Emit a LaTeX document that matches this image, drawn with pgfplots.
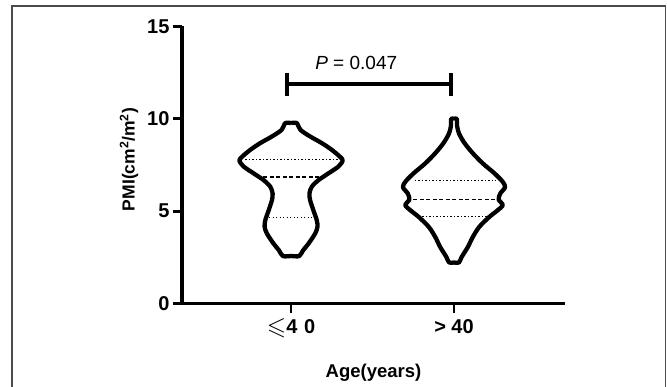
\documentclass[border=0pt]{standalone}
\usepackage{amssymb}
\usepackage{fontspec}
\setmainfont{Liberation Sans}
\usepackage{pgfplots}
\pgfplotsset{compat=1.18}
\begin{document}
\begin{tikzpicture}
\useasboundingbox (0pt,0pt) rectangle (667pt,386pt);
\draw[gray!60!black, line width=1.2pt] (12pt,-3pt) -- (12pt,380pt) -- (665.5pt,380pt) -- (665.5pt,-3pt);
\begin{axis}[
  at={(182pt,82.5pt)}, anchor=south west,
  scale only axis, width=383pt, height=277pt,
  xmin=0.331, xmax=2.681, ymin=0, ymax=15,
  axis x line=bottom, axis y line=left,
  axis line style={line width=3.2pt, -},
  tick align=outside,
  major tick length=9pt,
  tick style={line width=2.7pt, black},
  xtick={1,2},
  xticklabels={{\raisebox{-1pt}{\fontsize{25}{25}\selectfont$\leqslant$}\textbf{4\,\,0}}, {\textbf{> 40}}},
  ytick={0,5,10,15},
  yticklabel style={/pgf/number format/assume math mode=true, font=\bfseries\fontsize{20}{20}\selectfont},
  xticklabel style={font=\fontsize{20}{20}\selectfont, yshift=-3pt},
  ylabel={\textbf{PMI(cm\textsuperscript{2}/m\textsuperscript{2})}},
  xlabel={\textbf{Age(years)}},
  every axis y label/.style={at={(axis description cs:-0.1384,0.52)}, rotate=90, anchor=center, font=\fontsize{17.5}{18}\selectfont},
  every axis x label/.style={at={(axis description cs:0.5,0)}, anchor=center, yshift=-69pt, font=\fontsize{18.5}{19}\selectfont},
  clip=false,
]
% violin <=40
\addplot[black, line width=4.3pt, smooth, tension=0.5, line join=round] coordinates {
(1,9.77) (1.035,9.77) (1.058,9.40) (1.118,9.04) (1.19,8.68) (1.25,8.32) (1.30,7.95) (1.317,7.74) (1.29,7.41) (1.23,7.05) (1.168,6.68) (1.127,6.32) (1.113,5.96) (1.117,5.60) (1.137,5.05) (1.158,4.51) (1.162,4.15) (1.148,3.79) (1.107,3.24) (1.074,2.88) (1.05,2.57)
(1,2.57)
(0.95,2.57) (0.926,2.88) (0.893,3.24) (0.852,3.79) (0.838,4.15) (0.842,4.51) (0.863,5.05) (0.883,5.60) (0.887,5.96) (0.873,6.32) (0.832,6.68) (0.77,7.05) (0.71,7.41) (0.683,7.74) (0.70,7.95) (0.75,8.32) (0.81,8.68) (0.882,9.04) (0.942,9.40) (0.965,9.77) (1,9.77)
};
% violin >40
\addplot[black, line width=4.3pt, smooth, tension=0.5, line join=round] coordinates {
(2,10.0) (2.018,10.0) (2.018,9.67) (2.03,9.22) (2.065,8.68) (2.115,8.14) (2.176,7.59) (2.248,7.05) (2.299,6.59) (2.313,6.29) (2.284,5.96) (2.274,5.63) (2.299,5.33) (2.268,5.05) (2.217,4.69) (2.155,4.15) (2.115,3.60) (2.085,3.06) (2.047,2.52) (2.03,2.22)
(2,2.22)
(1.97,2.22) (1.953,2.52) (1.915,3.06) (1.885,3.60) (1.845,4.15) (1.783,4.69) (1.732,5.05) (1.701,5.33) (1.726,5.63) (1.716,5.96) (1.687,6.29) (1.701,6.59) (1.752,7.05) (1.824,7.59) (1.885,8.14) (1.935,8.68) (1.97,9.22) (1.982,9.67) (1.982,10.0) (2,10.0)
};
% quartiles
\addplot[black, line width=1.3pt, dash pattern=on 1.3pt off 2.2pt] coordinates {(0.72,7.81) (1.29,7.81)};
\addplot[black, line width=1.4pt, dash pattern=on 4pt off 2.5pt] coordinates {(0.79,6.86) (1.22,6.86)};
\addplot[black, line width=1.3pt, dash pattern=on 1.3pt off 2.2pt] coordinates {(0.865,4.64) (1.135,4.64)};
\addplot[black, line width=1.3pt, dash pattern=on 1.3pt off 2.2pt] coordinates {(1.76,6.65) (2.255,6.65)};
\addplot[black, line width=1.4pt, dash pattern=on 4pt off 2.5pt] coordinates {(1.75,5.63) (2.26,5.63)};
\addplot[black, line width=1.3pt, dash pattern=on 1.3pt off 2.2pt] coordinates {(1.785,4.73) (2.215,4.73)};
% significance bracket
\addplot[black, line width=4pt] coordinates {(0.977,11.86) (1.98,11.86)};
\addplot[black, line width=3.7pt] coordinates {(0.977,11.21) (0.977,12.48)};
\addplot[black, line width=3.7pt] coordinates {(1.98,11.21) (1.98,12.48)};
\node[anchor=base] at (axis cs:1.40,12.66) {\fontsize{19}{20}\selectfont\textit{P} = 0.047};
\end{axis}
\end{tikzpicture}
\end{document}
